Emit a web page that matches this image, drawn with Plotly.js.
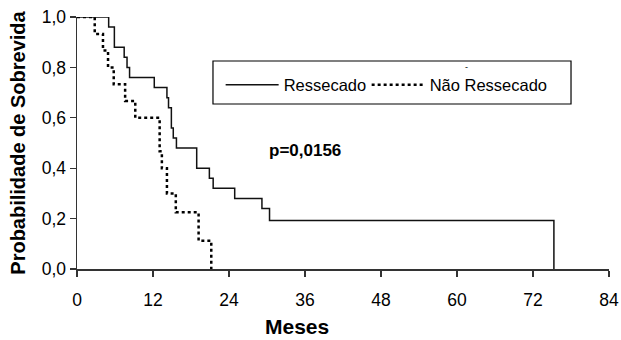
<!DOCTYPE html>
<html>
<head>
<meta charset="utf-8">
<script src="https://cdn.plot.ly/plotly-3.0.1.min.js"></script>
<style>
  html, body { margin: 0; padding: 0; background: #fff; }
  #chart { width: 621px; height: 340px; }
</style>
</head>
<body>
<div id="chart"></div>
<script>
// Kaplan-Meier survival estimates
const resMonths = [0, 5.0, 5.9, 7.45, 7.9, 8.3, 12.2, 14.2, 14.45, 14.9, 15.2, 15.7, 18.9, 20.9, 21.5, 24.9, 29.2, 30.4, 75.3];
const resSurv   = [1, 0.96, 0.88, 0.84, 0.80, 0.76, 0.72, 0.68, 0.64, 0.56, 0.52, 0.48, 0.40, 0.36, 0.32, 0.28, 0.24, 0.192, 0];

const naoMonths = [0, 2.8, 4.1, 4.9, 5.8, 7.6, 9.2, 13.05, 13.4, 14.2, 15.6, 19.2, 21.2];
const naoSurv   = [1, 0.933, 0.867, 0.80, 0.733, 0.667, 0.60, 0.467, 0.40, 0.30, 0.225, 0.1125, 0];

const xTicks = [0, 12, 24, 36, 48, 60, 72, 84];
const yTicks = [0, 0.2, 0.4, 0.6, 0.8, 1.0];

const seriesNames = ['Ressecado', 'Não Ressecado'];
const pText = 'p=0,0156';
const xTitle = 'Meses';
const yTitle = 'Probabilidade de Sobrevida';

const FONT = '"Liberation Sans", Arial, Helvetica, sans-serif';

const traces = [
  {
    x: resMonths, y: resSurv, name: seriesNames[0], type: 'scatter', mode: 'lines',
    legendwidth: 78,
    line: { shape: 'hv', color: '#111', width: 1.5 }
  },
  {
    x: naoMonths, y: naoSurv, name: seriesNames[1], type: 'scatter', mode: 'lines',
    legendwidth: 130,
    line: { shape: 'hv', color: '#000', width: 2.5, dash: 'dot' }
  }
];

const layout = {
  width: 621, height: 340,
  margin: { l: 77, r: 12, t: 17, b: 71, pad: 0 },
  paper_bgcolor: '#fff', plot_bgcolor: '#fff',
  separators: ',.',
  font: { family: FONT, size: 17, color: '#000' },
  xaxis: {
    range: [0, 84], tickvals: xTicks, ticktext: xTicks.map(String),
    showgrid: false, zeroline: false, showline: true, linecolor: '#333', linewidth: 1.5,
    ticks: 'outside', ticklen: 6, tickwidth: 1.2, tickcolor: '#333',
    ticklabelstandoff: 8,
    tickfont: { family: FONT, size: 17.5, color: '#000' }
  },
  yaxis: {
    range: [0, 1], tickvals: yTicks, tickformat: '.1f',
    showgrid: false, zeroline: false, showline: true, linecolor: '#333', linewidth: 1.5,
    ticks: 'outside', ticklen: 6, tickwidth: 1.2, tickcolor: '#333',
    tickfont: { family: FONT, size: 17.5, color: '#000' },
    title: { text: yTitle, standoff: 10, font: { family: FONT, size: 20, color: '#000', weight: 'bold' } }
  },
  showlegend: true,
  legend: {
    orientation: 'h', x: 0.270, xanchor: 'left', y: 0.730, yanchor: 'middle',
    bgcolor: 'rgba(0,0,0,0)', borderwidth: 0,
    itemwidth: 53,
    font: { family: FONT, size: 16.5, color: '#000' }
  },
  shapes: [
    { type: 'rect', xref: 'paper', yref: 'paper', x0: 0.2556, x1: 0.9286, y0: 0.6548, y1: 0.8254,
      line: { color: '#000', width: 1.2 }, fillcolor: 'rgba(0,0,0,0)' }
  ],
  annotations: [
    { xref: 'paper', yref: 'paper', x: 0.4286, y: 0.472, xanchor: 'center', yanchor: 'middle',
      text: '<b>' + pText + '</b>', showarrow: false, font: { family: FONT, size: 17, color: '#000' } },
    { xref: 'paper', yref: 'paper', x: 0.4135, y: -0.23, xanchor: 'center', yanchor: 'middle',
      text: '<b>' + xTitle + '</b>', showarrow: false, font: { family: FONT, size: 21, color: '#000' } },
    { xref: 'paper', yref: 'paper', x: 0.733, y: 0.80, xanchor: 'center', yanchor: 'middle',
      text: '-', showarrow: false, font: { family: FONT, size: 9, color: '#000' } }
  ]
};

Plotly.newPlot('chart', traces, layout, { staticPlot: true, displayModeBar: false });
</script>
</body>
</html>
